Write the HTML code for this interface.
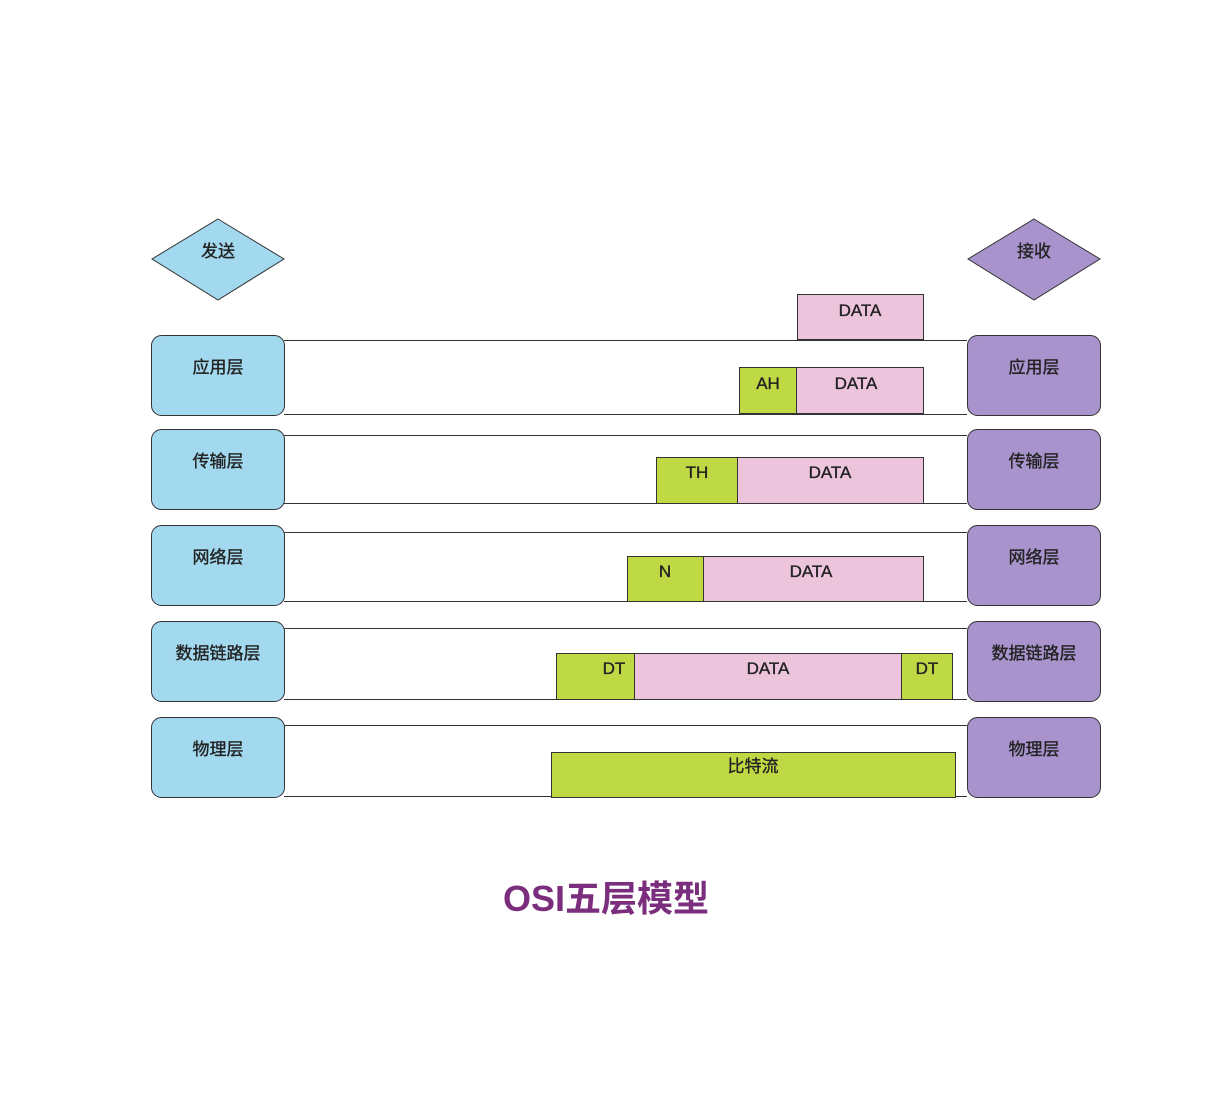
<!DOCTYPE html>
<html><head><meta charset="utf-8"><style>
html,body{margin:0;padding:0;background:#fff}
svg text{font-family:"Liberation Sans","Noto Sans CJK SC",sans-serif;fill:#222}
.lb text{stroke:#222;stroke-width:0.35}
</style></head><body>
<svg width="1213" height="1093" viewBox="0 0 1213 1093" xmlns="http://www.w3.org/2000/svg">
<g stroke="#333" stroke-width="1">
<polygon points="218,219 284,259 218,300 152,259" fill="#a3d9ef"/>
<polygon points="1034,219 1100,259 1034,300 968,259" fill="#a993cd"/>
<line x1="284" y1="340.5" x2="967" y2="340.5"/><line x1="284" y1="414.5" x2="967" y2="414.5"/>
<line x1="284" y1="435.5" x2="967" y2="435.5"/><line x1="284" y1="503.5" x2="967" y2="503.5"/>
<line x1="284" y1="532.5" x2="967" y2="532.5"/><line x1="284" y1="601.5" x2="967" y2="601.5"/>
<line x1="284" y1="628.5" x2="967" y2="628.5"/><line x1="284" y1="699.5" x2="967" y2="699.5"/>
<line x1="284" y1="725.5" x2="967" y2="725.5"/><line x1="284" y1="796.5" x2="967" y2="796.5"/>
<rect x="151.5" y="335.5" width="133" height="80" rx="10" fill="#a3d9ef"/>
<rect x="151.5" y="429.5" width="133" height="80" rx="10" fill="#a3d9ef"/>
<rect x="151.5" y="525.5" width="133" height="80" rx="10" fill="#a3d9ef"/>
<rect x="151.5" y="621.5" width="133" height="80" rx="10" fill="#a3d9ef"/>
<rect x="151.5" y="717.5" width="133" height="80" rx="10" fill="#a3d9ef"/>
<rect x="967.5" y="335.5" width="133" height="80" rx="10" fill="#a993cd"/>
<rect x="967.5" y="429.5" width="133" height="80" rx="10" fill="#a993cd"/>
<rect x="967.5" y="525.5" width="133" height="80" rx="10" fill="#a993cd"/>
<rect x="967.5" y="621.5" width="133" height="80" rx="10" fill="#a993cd"/>
<rect x="967.5" y="717.5" width="133" height="80" rx="10" fill="#a993cd"/>
<rect x="797.5" y="294.5" width="126" height="45" fill="#ecc4dc"/>
<rect x="739.5" y="367.5" width="57" height="46" fill="#bfd944"/>
<rect x="796.5" y="367.5" width="127" height="46" fill="#ecc4dc"/>
<rect x="656.5" y="457.5" width="81" height="46" fill="#bfd944"/>
<rect x="737.5" y="457.5" width="186" height="46" fill="#ecc4dc"/>
<rect x="627.5" y="556.5" width="76" height="45" fill="#bfd944"/>
<rect x="703.5" y="556.5" width="220" height="45" fill="#ecc4dc"/>
<rect x="556.5" y="653.5" width="78" height="46" fill="#bfd944"/>
<rect x="634.5" y="653.5" width="267" height="46" fill="#ecc4dc"/>
<rect x="901.5" y="653.5" width="51" height="46" fill="#bfd944"/>
<rect x="551.5" y="752.5" width="404" height="45" fill="#bfd944"/>
</g>
<g class="lb" font-size="17" text-anchor="middle">
<text x="218" y="257">发送</text><text x="1034" y="257">接收</text>
<text x="218" y="373">应用层</text><text x="1034" y="373">应用层</text>
<text x="218" y="467">传输层</text><text x="1034" y="467">传输层</text>
<text x="218" y="563">网络层</text><text x="1034" y="563">网络层</text>
<text x="218" y="659">数据链路层</text><text x="1034" y="659">数据链路层</text>
<text x="218" y="755">物理层</text><text x="1034" y="755">物理层</text>
<text x="860" y="316">DATA</text>
<text x="768" y="389">AH</text><text x="856" y="389">DATA</text>
<text x="697" y="478">TH</text><text x="830" y="478">DATA</text>
<text x="665" y="577">N</text><text x="811" y="577">DATA</text>
<text x="614" y="674">DT</text><text x="768" y="674">DATA</text><text x="927" y="674">DT</text>
<text x="753" y="772">比特流</text>
</g>
<text x="606" y="911" font-size="36" font-weight="bold" text-anchor="middle" style="fill:#7b2e7e">OSI五层模型</text>
</svg>
</body></html>
